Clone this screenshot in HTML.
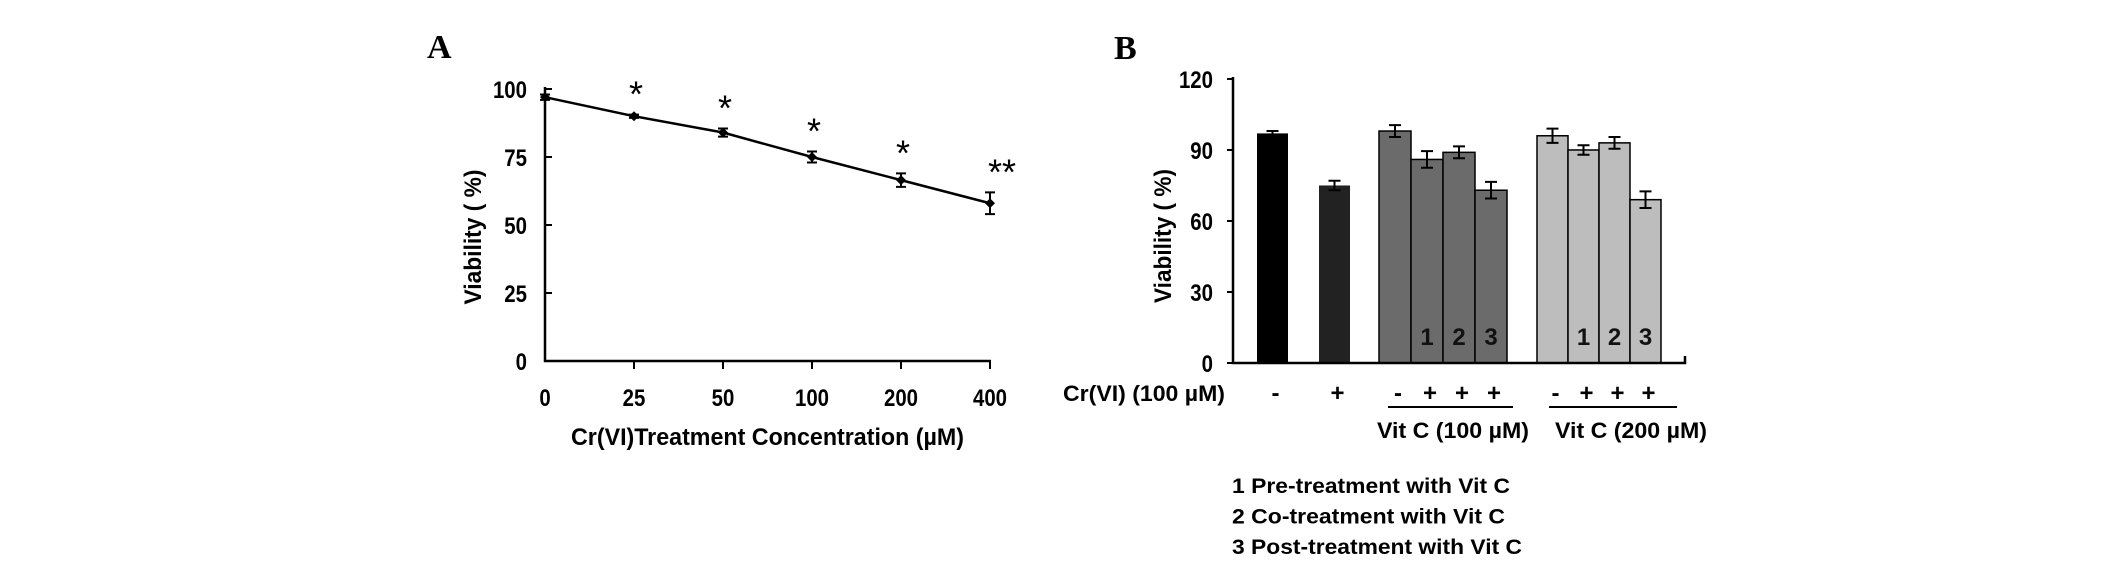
<!DOCTYPE html>
<html><head><meta charset="utf-8"><style>
html,body{margin:0;padding:0;background:#fff;}
svg{display:block;font-family:"Liberation Sans",Arial,sans-serif;font-weight:bold;}
</style></head><body>
<svg id="fig" width="2126" height="563" viewBox="0 0 2126 563">
<text x="427" y="58" font-family="Liberation Serif,serif" font-size="34" font-weight="bold">A</text>
<text x="1114" y="59" font-family="Liberation Serif,serif" font-size="34" font-weight="bold">B</text>
<g id="chartA"></g>
<g id="chartB"></g>
</svg>
<script>
// ---- Chart A data ----
const aCategories = ["0","25","50","100","200","400"];
const aValues = [97, 90, 84, 75, 66.5, 58];
const aErrors = [1, 0.6, 1.5, 2, 2.5, 4];
const aStars = ["", "*", "*", "*", "*", "**"];
const aYTicks = [0, 25, 50, 75, 100];
// ---- Chart B data ----
const bValues = [97, 75, 98, 86, 89, 73, 96, 90, 93, 69];
const bErrors = [1, 2, 2.5, 3.5, 2.5, 3.5, 3, 2, 2.5, 3.5];
const bCrSigns = ["-", "+", "-", "+", "+", "+", "-", "+", "+", "+"];
const bBarNums = ["", "", "", "1", "2", "3", "", "1", "2", "3"];
const bYTicks = [0, 30, 60, 90, 120];
const bLegend = ["1 Pre-treatment with Vit C", "2 Co-treatment with Vit C", "3 Post-treatment with Vit C"];
const bGroupLabels = ["Vit C (100 µM)", "Vit C (200 µM)"];

const NS = "http://www.w3.org/2000/svg";
function mk(parent, tag, attrs, txt){
  const e = document.createElementNS(NS, tag);
  for (const k in attrs) e.setAttribute(k, attrs[k]);
  if (txt !== undefined) e.textContent = txt;
  parent.appendChild(e); return e;
}

// ---- Chart A ----
(function(){
  const g = document.getElementById('chartA');
  const x0 = 545, step = 89, yBase = 361, yPer = 2.72;
  const xA = i => x0 + i * step;
  const yA = v => yBase - v * yPer;
  const ax = mk(g, 'path', {d:`M${x0} ${yA(100)-2} V${yBase} H${xA(5)+1}`, stroke:'#000', 'stroke-width':2.5, fill:'none'});
  
  
  aYTicks.forEach(t => {
    const tk = mk(g, 'line', {x1:x0, x2:x0+7, y1:yA(t), y2:yA(t), stroke:'#000', 'stroke-width':2});
    
    
    const tl = mk(g, 'text', {x:527, y:yA(t)+9, 'text-anchor':'end', 'font-size':24, transform:`translate(527 0) scale(0.85 1) translate(-527 0)`}, String(t));
    
    
  });
  aCategories.forEach((c, i) => {
    if (i > 0) {
      const tk = mk(g, 'line', {x1:xA(i), x2:xA(i), y1:yBase, y2:yBase+8, stroke:'#000', 'stroke-width':2});
      
      
    }
    const cx = xA(i);
    const tl = mk(g, 'text', {x:cx, y:406, 'text-anchor':'middle', 'font-size':24, transform:`translate(${cx} 0) scale(0.85 1) translate(${-cx} 0)`}, c);
    
    
  });
  const pts = aValues.map((v, i) => `${xA(i)},${yA(v)}`).join(' ');
  const ln = mk(g, 'polyline', {points:pts, fill:'none', stroke:'#000', 'stroke-width':2.5});
  
  
  aValues.forEach((v, i) => {
    const x = xA(i), y = yA(v), e = aErrors[i] * yPer;
    const eb = mk(g, 'path', {d:`M${x} ${y-e} V${y+e} M${x-5} ${y-e} H${x+5} M${x-5} ${y+e} H${x+5}`, stroke:'#000', 'stroke-width':2, fill:'none'});
    
    
    const pt = mk(g, 'path', {d:`M${x} ${y-5} L${x+5} ${y} L${x} ${y+5} L${x-5} ${y} Z`, fill:'#000'});
    
    
    if (aStars[i]) {
      const st = mk(g, 'text', {x:x + (aStars[i].length > 1 ? 12 : 2), y:y - e - 8, 'text-anchor':'middle', 'font-size':36, 'font-weight':'normal'}, aStars[i]);
      
      
    }
  });
  const yt = mk(g, 'text', {x:0, y:0, 'text-anchor':'middle', 'font-size':24, textLength:135, lengthAdjust:'spacingAndGlyphs', transform:'translate(481 237) rotate(-90)'}, 'Viability ( %)');
  
  
  const xt = mk(g, 'text', {x:571, y:445, 'font-size':24, textLength:393, lengthAdjust:'spacingAndGlyphs'}, 'Cr(VI)Treatment Concentration (µM)');
  
  
})();

// ---- Chart B ----
(function(){
  const g = document.getElementById('chartB');
  const yBase = 363, yPer = 2.367, xAxis = 1233, xEnd = 1685;
  const yB = v => yBase - v * yPer;
  const starts = [1257, 1319, 1379, 1411, 1443, 1475, 1537, 1568, 1599, 1630];
  const widths = [31, 31, 32, 32, 32, 32, 31, 31, 31, 31];
  const fills = ['#000', '#222', '#6b6b6b', '#6b6b6b', '#6b6b6b', '#6b6b6b', '#bdbdbd', '#bdbdbd', '#bdbdbd', '#bdbdbd'];
  bValues.forEach((v, i) => {
    const x = starts[i], w = widths[i], y = yB(v);
    const b = mk(g, 'rect', {x:x, y:y, width:w, height:yBase - y, fill:fills[i], stroke:'#000', 'stroke-width':i > 1 ? 1.5 : 0});
    
    
    const cx = x + w / 2, e = bErrors[i] * yPer;
    const eb = mk(g, 'path', {d:`M${cx} ${y-e} V${y+e} M${cx-6} ${y-e} H${cx+6} M${cx-6} ${y+e} H${cx+6}`, stroke:'#000', 'stroke-width':2, fill:'none'});
    
    
    if (bBarNums[i]) {
      const n = mk(g, 'text', {x:cx, y:345, 'text-anchor':'middle', 'font-size':24, fill:'#111'}, bBarNums[i]);
      
      
    }
    const s = mk(g, 'text', {x:cx + 3, y:401, 'text-anchor':'middle', 'font-size':24}, bCrSigns[i]);
    
    
  });
  const ax = mk(g, 'path', {d:`M${xAxis} ${yB(120)-2} V${yBase} H${xEnd} V${yBase-7}`, stroke:'#000', 'stroke-width':2.5, fill:'none'});
  
  
  bYTicks.forEach(t => {
    const tk = mk(g, 'line', {x1:xAxis-6, x2:xAxis, y1:yB(t), y2:yB(t), stroke:'#000', 'stroke-width':2});
    
    
    const tl = mk(g, 'text', {x:1213, y:yB(t)+9, 'text-anchor':'end', 'font-size':24, transform:`translate(1213 0) scale(0.85 1) translate(-1213 0)`}, String(t));
    
    
  });
  const yt = mk(g, 'text', {x:0, y:0, 'text-anchor':'middle', 'font-size':24, textLength:134, lengthAdjust:'spacingAndGlyphs', transform:'translate(1171 236) rotate(-90)'}, 'Viability ( %)');
  
  
  const cr = mk(g, 'text', {x:1063, y:401, 'font-size':22, textLength:162, lengthAdjust:'spacingAndGlyphs'}, 'Cr(VI) (100 µM)');
  
  
  const lines = [[1388, 1513], [1549, 1677]];
  const lx = [1377, 1555];
  bGroupLabels.forEach((t, k) => {
    const l = mk(g, 'line', {x1:lines[k][0], x2:lines[k][1], y1:407, y2:407, stroke:'#000', 'stroke-width':2});
    
    
    const tx = mk(g, 'text', {x:lx[k], y:438, 'font-size':22, textLength:152, lengthAdjust:'spacingAndGlyphs'}, t);
    
    
  });
  const lw = [278, 273, 290];
  bLegend.forEach((t, k) => {
    const tx = mk(g, 'text', {x:1232, y:493 + k * 30.5, 'font-size':21, textLength:lw[k], lengthAdjust:'spacingAndGlyphs'}, t);
    
    
  });
})();
</script>
</body></html>
